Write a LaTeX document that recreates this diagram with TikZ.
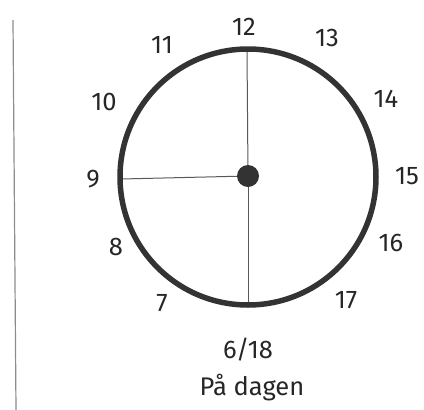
\documentclass[tikz,border=0pt]{standalone}
\usepackage{fontspec}
\setmainfont{Fira Sans}
\begin{document}
\begin{tikzpicture}[x=1pt,y=-1pt,
  lbl/.style={font=\fontsize{25.5}{28}\selectfont, text=black!85, inner sep=0pt},
  hand/.style={draw=black!65, line width=1pt}]
\useasboundingbox (0,0) rectangle (424,410);
\draw[black!45, line width=1.2pt] (13,20) -- (16,410);
\node[circle, fill=black!80, minimum size=22pt, inner sep=0pt] (c) at (248,176) {};
\coordinate (top) at (247,49);
\coordinate (bot) at (248,303);
\coordinate (left) at (121,179);
\draw[hand] (c) -- (top);
\draw[hand] (c) -- (bot);
\draw[hand] (c) -- (left);
\draw[black!80, line width=5.5pt] (248,177) circle[radius=128];
\node[lbl] (l12) at (244,27) {12};
\node[lbl] (l13) at (327,38) {13};
\node[lbl] (l14) at (386,99) {14};
\node[lbl] (l15) at (407,176) {15};
\node[lbl] (l16) at (391,243) {16};
\node[lbl] (l17) at (346,300) {17};
\node[lbl] (l6) at (248,350) {6/18};
\node[lbl] (l7) at (162,303) {7};
\node[lbl] (l8) at (116,247) {8};
\node[lbl] (l9) at (93,179) {9};
\node[lbl] (l10) at (104,102) {10};
\node[lbl] (l11) at (162,45) {11};
\node[lbl] (t) at (252,388) {På dagen};
\end{tikzpicture}
\end{document}
